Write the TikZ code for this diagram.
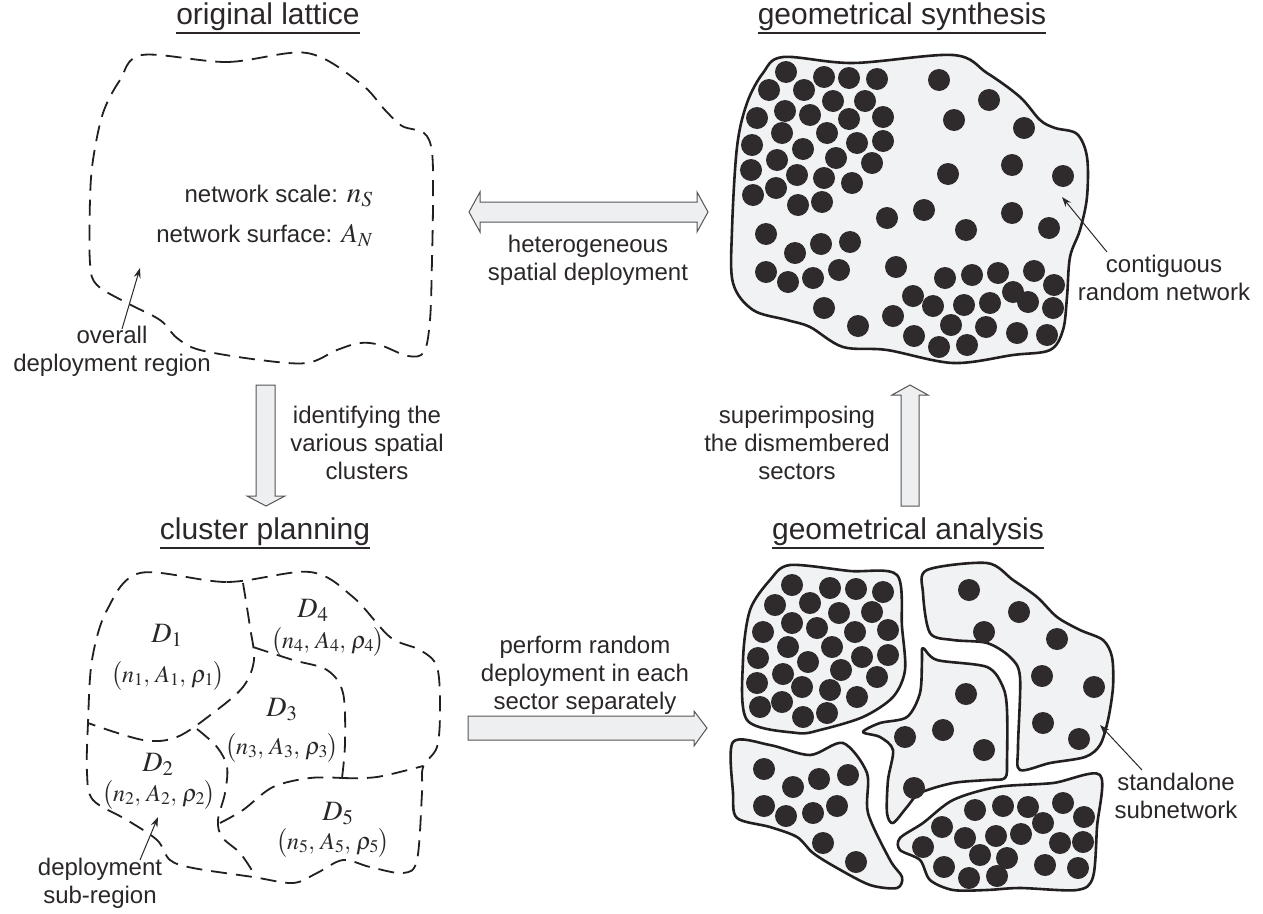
\documentclass[tikz,border=0pt]{standalone}
\usepackage{mathptmx}
\usepackage[no-math]{fontspec}
\setmainfont{Liberation Sans}
\usetikzlibrary{arrows.meta}
\definecolor{ink}{HTML}{231F20}
\definecolor{txt}{HTML}{2B2728}
\definecolor{dotc}{HTML}{2F2A2B}
\definecolor{paper}{HTML}{F1F2F4}
\definecolor{afill}{HTML}{EEEFF1}
\definecolor{aline}{HTML}{555555}
\newcommand{\lns}[1]{\begin{tabular}[t]{@{}c@{}}#1\end{tabular}}
\newcommand{\tup}[1]{$\bigl(n_{#1},\, A_{#1},\, \rho_{#1}\bigr)$}
\tikzset{
  body/.style={font=\fontsize{24}{28}\selectfont, text=txt, inner sep=0pt, anchor=base},
  ttl/.style={font=\fontsize{30}{36}\selectfont, text=txt, inner sep=0pt, anchor=base},
  mlab/.style={font=\fontsize{28}{30}\selectfont, text=txt, inner sep=0pt, anchor=base},
  mtup/.style={font=\fontsize{24}{28}\selectfont, text=txt, inner sep=0pt, anchor=base},
  uline/.style={draw=txt, line width=1.6pt},
  region/.style={draw=ink, line width=1.8pt, dash pattern=on 16pt off 9pt},
  piece/.style={draw=ink, fill=paper, line width=2.6pt, line join=round},
  fat/.style={draw=aline, fill=afill, line width=1pt, line join=miter},
  pin/.style={-{Stealth[length=10pt,width=7pt]}, draw=txt, line width=1pt},
}
\begin{document}
\begin{tikzpicture}[x=1pt,y=-1pt]
\useasboundingbox (0,0) rectangle (1263,913);

% ---------- titles ----------
\node[ttl] (t1) at (268,24) {original lattice};
\node[ttl] (t2) at (902,24) {geometrical synthesis};
\node[ttl] (t3) at (265,539) {cluster planning};
\node[ttl] (t4) at (908,539) {geometrical analysis};
\foreach \t in {t1,t2,t3,t4}
  \draw[uline] ([yshift=-9pt]\t.base west) -- ([yshift=-9pt]\t.base east);

% ---------- original lattice ----------
\draw[region] plot[smooth cycle, tension=0.55] coordinates {
 (142,55) (227,62) (307,53) (360,83) (385,110) (402,126) (424,133) (432,152)
 (433,200) (432,260) (430,320) (424,352) (408,356) (380,345) (360,343) (337,350)
 (307,363) (260,360) (200,350) (177,338) (160,320) (127,303) (97,285) (90,263)
 (90,200) (93,160) (103,113) (120,80)};
\node[body, anchor=base east] (ns) at (373,202) {network scale: {\fontsize{29}{28}\selectfont$n_S$}};
\node[body, anchor=base east] (an) at (373,242) {network surface: {\fontsize{27}{28}\selectfont$A_N$}};
\node[body] (ov) at (112,343) {\lns{overall\\deployment region}};
\coordinate (ovtip) at (140,268);
\draw[pin] ([xshift=10pt,yshift=14pt]ov.base) -- (ovtip);

% ---------- geometrical synthesis ----------
\draw[piece] plot[smooth cycle, tension=0.55] coordinates {
 (783,57) (853,63) (953,55) (987,73) (1020,97) (1040,120) (1055,128) (1077,134)
 (1087,157) (1087,197) (1080,230) (1070,257) (1067,297) (1063,330) (1050,350)
 (1013,355) (953,363) (887,350) (843,347) (810,327) (787,320) (753,310) (733,283)
 (732,230) (737,147) (747,103) (763,73)};
\foreach \x/\y in {786/72, 824/77, 849/78, 877/79, 769/90, 804/90, 833/101, 865/101,
 785/111, 810/115, 849/119, 883/117, 757/118, 782/133, 827/133, 857/143, 883/141,
 752/145, 803/149, 777/160, 836/158, 872/163, 751/170, 797/175, 824/178, 852/183,
 776/188, 753/195, 798/205, 822/202,
 939/80, 989/100, 954/120, 1024/128, 1012/165, 948/174, 1063/176, 924/210, 887/218,
 1012/213, 966/230, 1049/228,
 766/234, 795/253, 821/244, 850/242, 766/272, 788/282, 813/278, 839/270, 824/308,
 858/326, 896/267,
 945/278, 972/275, 998/273, 1034/271, 1054/285, 1013/292, 913/296, 933/306, 964/305,
 990/303, 1028/302, 1053/308, 893/316, 951/325, 986/327, 1017/333, 1047/335, 914/336,
 939/347, 967/345}
  \fill[dotc] (\x,\y) circle (11);
\node[body] (cr) at (1164,272) {\lns{contiguous\\random network}};
\coordinate (crtip) at (1062,197);
\draw[pin] ([xshift=-57pt,yshift=20pt]cr.base) -- (crtip);

% ---------- cluster planning ----------
\draw[region] plot[smooth cycle, tension=0.55] coordinates {
 (140,573) (227,582) (310,572) (353,597) (390,637) (420,650) (437,667) (440,710)
 (437,747) (423,767) (422,793) (417,860) (403,873) (370,867) (343,860) (317,873)
 (293,883) (253,877) (193,868) (170,860) (157,840) (127,820) (93,800) (87,773)
 (88,723) (92,660) (107,610)};
\draw[region] plot[smooth, tension=0.55] coordinates {
 (243,583) (250,627) (254,660) (243,687) (213,713) (177,737) (143,740) (88,723)};
\draw[region] plot[smooth, tension=0.55] coordinates {
 (253,647) (293,660) (327,670) (343,693) (345,743) (342,778)};
\draw[region] plot[smooth, tension=0.55] coordinates {
 (342,778) (377,777) (423,766)};
\draw[region] plot[smooth, tension=0.55] coordinates {
 (197,729) (217,747) (227,767) (225,793) (218,820) (222,837) (240,853) (253,872)};
\draw[region] plot[smooth, tension=0.55] coordinates {
 (220,823) (243,810) (273,787) (310,778) (342,778)};
\node[mlab] (d1) at (167,642) {$D_1$};
\node[mtup] (p1) at (168,682) {\tup{1}};
\node[mlab] (d4) at (313,617) {$D_4$};
\node[mtup] (p4) at (328,648) {\tup{4}};
\node[mlab] (d3) at (282,716) {$D_3$};
\node[mtup] (p3) at (282,754) {\tup{3}};
\node[mlab] (d2) at (158,771) {$D_2$};
\node[mtup] (p2) at (159,801) {\tup{2}};
\node[mlab] (d5) at (338,820) {$D_5$};
\node[mtup] (p5) at (333,849) {\tup{5}};
\node[body] (sr) at (100,875) {\lns{deployment\\sub-region}};
\coordinate (srtip) at (158,817);
\draw[pin] ([xshift=40pt,yshift=15pt]sr.base) -- (srtip);

% ---------- geometrical analysis ----------
\draw[piece] plot[smooth cycle, tension=0.5] coordinates {
 (790,565) (850,571) (897,575) (902,627) (905,670) (893,697) (863,717) (820,730)
 (797,733) (747,720) (743,660) (750,610) (770,580)};
\draw[piece] plot[smooth cycle, tension=0.5] coordinates {
 (927,570) (987,563) (1013,580) (1037,597) (1057,617) (1080,630) (1103,640)
 (1112,657) (1113,687) (1108,720) (1100,745) (1085,757) (1050,763) (1020,770)
 (1018,747) (1020,677) (1010,657) (987,643) (953,640) (930,633) (923,593)};
\draw[piece] plot[smooth cycle, tension=0.5] coordinates {
 (923,648) (937,660) (987,667) (1003,687) (1007,710) (1007,760) (1005,778)
 (987,780) (953,783) (920,793) (907,807) (893,823) (887,813) (888,780) (893,750)
 (880,737) (863,732) (880,723) (907,717) (920,693) (922,660)};
\draw[piece] plot[smooth cycle, tension=0.5] coordinates {
 (733,742) (770,745) (810,755) (843,743) (867,773) (868,813) (890,860) (902,877)
 (897,888) (870,885) (837,868) (813,853) (797,837) (770,827) (737,818) (733,793)};
\draw[piece] plot[smooth cycle, tension=0.5] coordinates {
 (900,838) (923,823) (953,800) (997,787) (1053,783) (1100,775) (1097,827)
 (1093,877) (1077,890) (1020,888) (987,890) (953,890) (930,880) (920,860) (900,850)};
\foreach \x/\y in {792/585, 830/588, 856/589, 883/592, 775/605, 810/603, 839/613,
 872/612, 792/623, 817/628, 855/632, 888/630, 763/632, 788/647, 832/647, 862/657,
 888/655, 758/658, 808/662, 841/670, 783/674, 877/677, 757/683, 802/687, 830/690,
 857/697, 760/707, 782/702, 803/717, 827/713,
 969/590, 1019/612, 984/632, 1057/639, 1042/676, 1094/687, 1043/723, 1079/739,
 966/694, 943/730, 905/737, 984/750, 914/788,
 764/769, 793/787, 819/779, 848/775, 764/806, 786/816, 813/813, 837/806, 823/843, 856/862,
 975/810, 1003/806, 1028/807, 1063/803, 1084/817, 1043/823, 942/827, 965/838, 996/836,
 1021/834, 1060/843, 1083/842, 923/847, 980/855, 1007/858, 1045/865, 944/867, 969/878,
 997/876, 1078/868}
  \fill[dotc] (\x,\y) circle (11);
\node[body] (sa) at (1176,790) {\lns{standalone\\subnetwork}};
\coordinate (satip) at (1100,725);
\draw[pin] ([xshift=-34pt,yshift=20pt]sa.base) -- (satip);

% ---------- fat arrows ----------
\draw[fat] (469,212) -- (480,192) -- (480,202) -- (697,202) -- (697,192) -- (708,212)
  -- (697,232) -- (697,222) -- (480,222) -- (480,232) -- cycle;
\node[body] (hs) at (588,252) {\lns{heterogeneous\\spatial deployment}};

\draw[fat] (256,385) -- (275,385) -- (275,496) -- (285,496) -- (266,506) -- (247,496)
  -- (256,496) -- cycle;
\node[body] (id) at (367,423) {\lns{identifying the\\various spatial\\clusters}};

\draw[fat] (468,716) -- (694,716) -- (694,711) -- (707,728) -- (694,746) -- (694,740)
  -- (468,740) -- cycle;
\node[body] (pr) at (585,653) {\lns{perform random\\deployment in each\\sector separately}};

\draw[fat] (901,506) -- (919,506) -- (919,395) -- (928,395) -- (910,385) -- (892,395)
  -- (901,395) -- cycle;
\node[body] (su) at (797,423) {\lns{superimposing\\the dismembered\\sectors}};
\end{tikzpicture}
\end{document}
